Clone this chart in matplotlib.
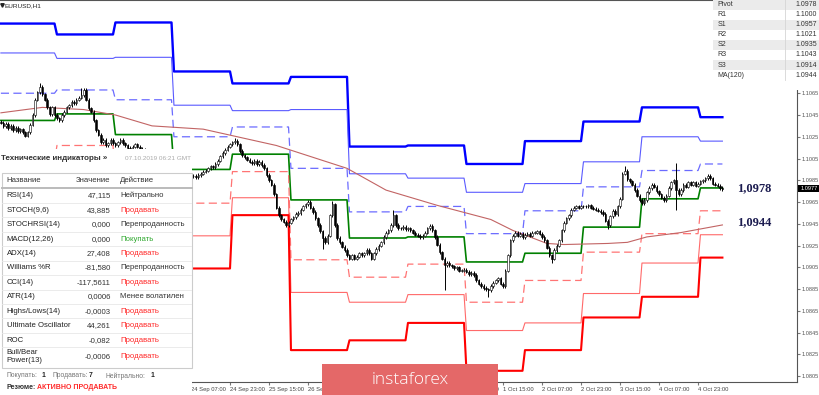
import numpy as np
import matplotlib.pyplot as plt
from matplotlib.patches import Rectangle

plt.rcParams['font.family'] = ['Liberation Sans', 'DejaVu Sans']

# ---- data -------------------------------------------------------------
# hourly closes in pips above 1.0800, first bar = 19 Sep (bar -78), bar 0 = 24 Sep 07:00
close_pips = [
    238, 235, 237, 233, 235, 231, 233, 230, 232, 229,
    226, 229, 236, 245, 259, 266, 271, 264, 259, 252,
    246, 252, 245, 242, 240, 245, 248, 252, 254, 257,
    256, 259, 261, 263, 268, 259, 251, 248, 240, 231,
    227, 220, 222, 217, 219, 222, 219, 217, 220, 222,
    219, 217, 215, 214, 216, 218, 216, 214, 213, 211,
    210, 208, 205, 204, 202, 201, 199, 197, 196, 194,
    193, 191, 190, 189, 188, 189, 187, 188, 189,
    189, 188, 190, 191, 193, 194, 196, 198, 197, 200,
    203, 207, 210, 213, 216, 218, 220, 221, 218, 212,
    208, 206, 204, 202, 201, 203, 200, 202, 199, 196,
    190, 185, 181, 172, 160, 153, 149, 147, 144, 146,
    149, 151, 154, 155, 158, 161, 163, 165, 160, 156,
    150, 144, 138, 132, 128, 134, 153, 163, 144, 132,
    128, 124, 121, 116, 113, 116, 113, 115, 118, 116,
    118, 121, 118, 113, 118, 122, 125, 128, 133, 137,
    139, 144, 153, 144, 141, 141, 142, 140, 141, 139,
    137, 135, 134, 133, 134, 137, 141, 143, 139, 133,
    126, 119, 113, 107, 109, 107, 106, 104, 105, 102,
    102, 103, 101, 99, 100, 98, 93, 90, 88, 86,
    85, 84, 88, 91, 93, 95, 90, 88, 102, 116,
    130, 134, 137, 134, 136, 133, 135, 136, 134, 137,
    137, 138, 136, 133, 130, 123, 116, 113, 121, 125,
    130, 139, 146, 150, 153, 158, 160, 161, 160, 161,
    161, 161, 162, 160, 159, 158, 157, 156, 154, 148,
    144, 152, 157, 154, 161, 168, 191, 194, 186, 184,
    181, 176, 171, 167, 164, 167, 174, 178, 181, 179,
    175, 172, 169, 167, 171, 178, 183, 185, 176, 172,
    176, 181, 179, 183, 181, 183, 180, 182, 184, 185,
    187, 189, 187, 182, 181, 180, 178, 177,
]
first_bar = -78
# long wicks: bar -> (high, low) in pips, None = normal
spikes = {
    -62: (274, None), -45: (270, None), 18: (224, None), 54: (None, 122),
    58: (166, None), 83: (158, None), 98: (145, None), 104: (None, 84),
    122: (None, 78), 128: (None, 86), 148: (None, 109), 171: (None, 140),
    178: (198, None), 199: (201, 158),
}

# daily pivot levels (19 Sep ... 7 Oct)
day_start = [-79, -55, -31, -7, 17, 41, 65, 89, 113, 137, 161, 185, 209]
r3 = [1.1129, 1.1119, 1.1130, 1.1085, 1.1074, 1.1080, 1.1016, 1.1017, 1.1000, 1.1021, 1.1039, 1.1052, 1.1043]
r2 = [1.1102, 1.1097, 1.1098, 1.1054, 1.1049, 1.1050, 1.0991, 1.0987, 1.0974, 1.0982, 1.1002, 1.1025, 1.1021]
r1 = [1.1065, 1.1068, 1.1059, 1.1025, 1.1034, 1.0996, 1.0956, 1.0961, 1.0936, 1.0957, 1.0979, 1.0994, 1.1000]
pivot = [1.1040, 1.1046, 1.1027, 1.0995, 1.1009, 1.0967, 1.0932, 1.0933, 1.0910, 1.0918, 1.0942, 1.0968, 1.0978]
s1 = [1.1002, 1.1017, 1.0987, 1.0964, 1.0993, 1.0912, 1.0896, 1.0908, 1.0873, 1.0893, 1.0919, 1.0936, 1.0957]
s2 = [1.0977, 1.0995, 1.0955, 1.0934, 1.0969, 1.0882, 1.0873, 1.0880, 1.0847, 1.0854, 1.0881, 1.0909, 1.0935]
s3 = [1.0940, 1.0966, 1.0916, 1.0904, 1.0953, 1.0829, 1.0838, 1.0854, 1.0810, 1.0829, 1.0859, 1.0878, 1.0914]

# MA(120) read at a few bars
ma_bars = [-78, -61, -44, -31, -16, 5, 35, 64, 80, 101, 123, 132, 146, 153, 171, 179, 187, 201, 218]
ma_vals = [1.1047, 1.1052, 1.1050, 1.1045, 1.1035, 1.1032, 1.1017, 1.0996, 1.0976, 1.0962,
           1.0949, 1.0939, 1.0927, 1.0926, 1.0927, 1.0928, 1.0933, 1.0937, 1.0944]

x_tick_bars = [0, 16, 32, 48, 64, 80, 96, 112, 128, 144, 160, 176, 192, 208]
x_tick_labels = ['24 Sep 07:00', '24 Sep 23:00', '25 Sep 15:00', '26 Sep 07:00', '26 Sep 23:00',
                 '27 Sep 15:00', '30 Sep 07:00', '30 Sep 23:00', '1 Oct 15:00', '2 Oct 07:00',
                 '2 Oct 23:00', '3 Oct 15:00', '4 Oct 07:00', '4 Oct 23:00']

ind_names = ['RSI(14)', 'STOCH(9,6)', 'STOCHRSI(14)', 'MACD(12,26)', 'ADX(14)', 'Williams %R',
             'CCI(14)', 'ATR(14)', 'Highs/Lows(14)', 'Ultimate Oscillator', 'ROC', 'Bull/Bear\nPower(13)']
ind_values = ['47,115', '43,885', '0,000', '0,000', '27,408', '-81,580', '-117,5611', '0,0006',
              '-0,0003', '44,261', '-0,082', '-0,0006']
ind_actions = ['Нейтрально', 'Продавать', 'Перепроданность', 'Покупать', 'Продавать',
               'Перепроданность', 'Продавать', 'Менее волатилен', 'Продавать', 'Продавать',
               'Продавать', 'Продавать']

piv_names = ['Pivot', 'R1', 'S1', 'R2', 'S2', 'R3', 'S3', 'MA(120)']
piv_values = ['1.0978', '1.1000', '1.0957', '1.1021', '1.0935', '1.1043', '1.0914', '1.0944']

# ---- figure -----------------------------------------------------------
fig = plt.figure(figsize=(8.2, 3.95), dpi=100)
ax = fig.add_axes([0, 13 / 395, 797 / 820, 382 / 395])

bars = np.arange(first_bar, first_bar + len(close_pips))
c = np.array(close_pips, float)
o = np.r_[c[0] + 1, c[:-1]]
hi = np.maximum(o, c) + 1.5
lo = np.minimum(o, c) - 1.5
for b, (h, l) in spikes.items():
    i = b - first_bar
    if h is not None:
        hi[i] = h
    if l is not None:
        lo[i] = l
to_price = lambda p: 1.08 + p / 10000.0

# pivot level lines, one value per bar
day_idx = np.searchsorted(day_start, bars, side='right') - 1
styles = [
    (r3, '#0000ff', 1.7, '-'),
    (r2, '#5a5aff', 0.8, '-'),
    (r1, '#6b6bff', 0.9, (0, (6.5, 3.5))),
    (pivot, '#008000', 1.2, '-'),
    (s1, '#ff7474', 0.9, (0, (6.5, 3.5))),
    (s2, '#ff6a6a', 0.8, '-'),
    (s3, '#ff0000', 1.5, '-'),
]
for lv, col, lw, ls in styles:
    ax.plot(bars, np.array(lv)[day_idx], color=col, lw=lw, ls=ls, zorder=2)

ax.plot(ma_bars, ma_vals, color='#c26464', lw=0.8, zorder=2.5)

# candles
ax.vlines(bars, to_price(lo), to_price(hi), color='black', lw=0.7, zorder=3)
body_col = ['white' if cc >= oo else 'black' for oo, cc in zip(o, c)]
ax.bar(bars, np.maximum(np.abs(c - o), 0.4) / 10000.0, bottom=to_price(np.minimum(o, c)),
       width=0.65, color=body_col, edgecolor='black', linewidth=0.4, zorder=4)

ax.set_xlim(-78.36, 248.6)
ax.set_ylim(1.079971, 1.115065)
ax.yaxis.tick_right()
yt = np.round(np.arange(1.0805, 1.1066, 0.002), 4)
ax.set_yticks(yt)
ax.set_yticklabels([f'{v:.4f}' for v in yt])
ax.tick_params(axis='y', labelsize=4.1, labelcolor='#555555', color='#777777', length=2, pad=1)
ax.set_xticks(x_tick_bars)
ax.set_xticklabels(x_tick_labels, ha='left')
ax.tick_params(axis='x', labelsize=4.2, labelcolor='#444444', color='#777777', length=2, pad=1.5)
for side in ['top', 'right', 'bottom']:
    ax.spines[side].set_color('#555555')
    ax.spines[side].set_linewidth(0.8)
ax.spines['left'].set_visible(False)

# ---- overlay in pixel coordinates ------------------------------------
ov = fig.add_axes([0, 0, 1, 1])
ov.set_xlim(0, 820)
ov.set_ylim(395, 0)
ov.axis('off')
ov.set_zorder(5)
ov.patch.set_alpha(0)

ov.plot([2.5], [5], marker='v', ms=2.5, color='#222222')
ov.text(5, 5.5, 'EURUSD,H1', fontsize=4.6, color='#222222', va='center')

# technical indicator panel
ov.add_patch(Rectangle((0, 149), 192.5, 246, fc='white', ec='none'))
ov.text(1.5, 159, 'Технические индикаторы »', fontsize=5.8, weight='bold', color='#333333', va='center')
ov.text(191.5, 159, '07.10.2019 06:21 GMT', fontsize=4.6, color='#aaaaaa', va='center', ha='right')
ov.add_patch(Rectangle((1.7, 172.7), 190, 195, fc='none', ec='#cccccc', lw=0.8))
ov.plot([1.7, 191.7], [187.6, 187.6], color='#bbbbbb', lw=1.4)
ov.text(6.7, 180.3, 'Название', fontsize=5.6, color='#333333', va='center')
ov.text(110.7, 180.3, 'Значение', fontsize=5.6, color='#333333', va='center', ha='right')
ov.text(120, 180.3, 'Действие', fontsize=5.6, color='#333333', va='center')
act_col = {'Продавать': '#ff2a2a', 'Покупать': '#2ea82e'}
for i, (nm, val, act) in enumerate(zip(ind_names, ind_values, ind_actions)):
    y = 195.7 + 14.45 * i if i < 11 else 356.5
    ov.text(6.7, y, nm, fontsize=5.6, color='#222222', va='center', linespacing=1.05)
    ov.text(110.7, y, val, fontsize=5.6, color='#333333', va='center', ha='right')
    ov.text(120, y, act, fontsize=5.6, color=act_col.get(act, '#333333'), va='center')
    if i < 11:
        ov.plot([2, 191.5], [y + 7.2, y + 7.2], color='#e8e8e8', lw=0.6)
ov.text(6.7, 375.8, 'Покупать:', fontsize=4.9, color='#777777', va='center')
ov.text(41.5, 375.8, '1', fontsize=4.9, color='#222222', va='center', weight='bold')
ov.text(53, 375.8, 'Продавать:', fontsize=4.9, color='#777777', va='center')
ov.text(88.5, 375.8, '7', fontsize=4.9, color='#222222', va='center', weight='bold')
ov.text(106, 375.8, 'Нейтрально:', fontsize=4.9, color='#777777', va='center')
ov.text(150.5, 375.8, '1', fontsize=4.9, color='#222222', va='center', weight='bold')
ov.text(6.7, 387.5, 'Резюме:', fontsize=5.0, color='#333333', va='center', weight='bold')
ov.text(37.5, 387.5, 'АКТИВНО ПРОДАВАТЬ', fontsize=5.0, color='#ff2a2a', va='center', weight='bold')

# pivot table, top right
ov.add_patch(Rectangle((713, -1), 108, 91, fc='white', ec='none'))
for i, (nm, val) in enumerate(zip(piv_names, piv_values)):
    y = 4.5 + 10.1 * i
    if i % 2 == 0:
        ov.add_patch(Rectangle((713, y - 5.05), 108, 10.1, fc='#ebebeb', ec='none'))
    ov.text(717.5, y, nm, fontsize=5.0, color='#333333', va='center')
    ov.text(817, y, val, fontsize=5.0, color='#333333', va='center', ha='right')
ov.plot([785, 785], [-1, 80], color='#d5d5d5', lw=0.6)

# current price marker
ov.add_patch(Rectangle((798, 185.3), 22, 7, fc='black', ec='none'))
ov.text(801, 188.8, '1.0977', fontsize=4.1, color='white', va='center')

# level annotations
ov.text(737, 188.3, '1,0978', fontsize=9, weight='bold', color='#1c1c50', va='center',
        family=['Liberation Serif', 'DejaVu Serif'])
ov.text(737, 222.3, '1,0944', fontsize=9, weight='bold', color='#1c1c50', va='center',
        family=['Liberation Serif', 'DejaVu Serif'])

# logo
ov.add_patch(Rectangle((322, 364), 176, 32, fc='#e46868', ec='none'))
ov.text(410, 379.5, 'instaforex', fontsize=12.5, color='white', ha='center', va='center',
        family=['Open Sans', 'DejaVu Sans'], weight='light')

fig.savefig('out.png', dpi=100)
